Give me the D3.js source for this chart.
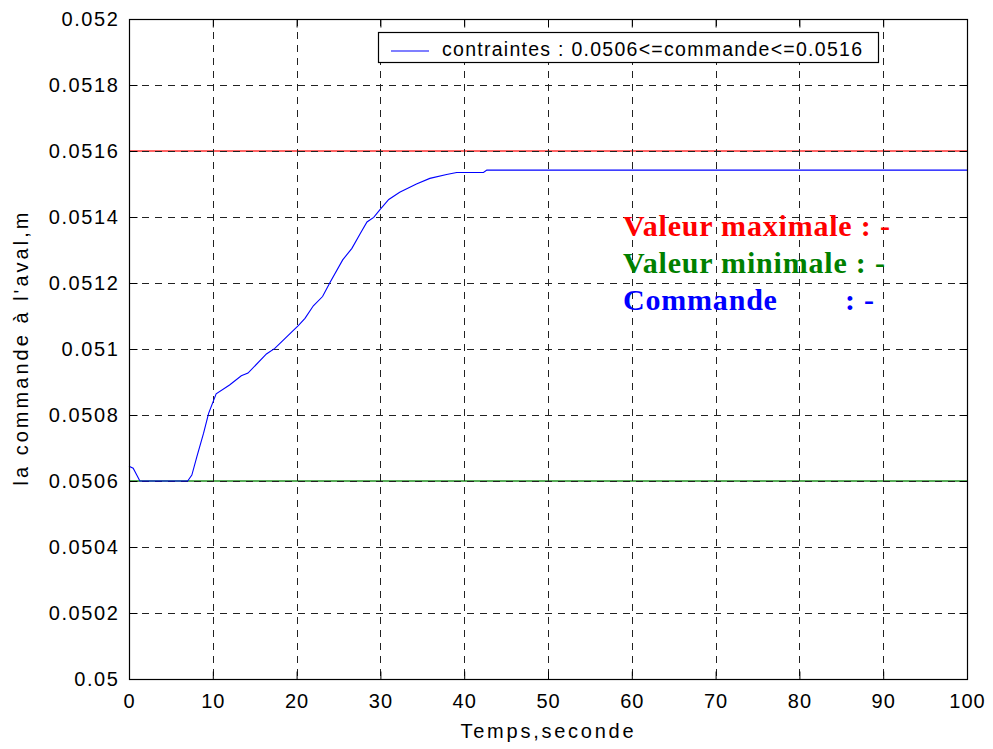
<!DOCTYPE html>
<html>
<head>
<meta charset="utf-8">
<script src="https://cdn.jsdelivr.net/npm/d3@7"></script>
<style>
  html, body { margin: 0; padding: 0; background: #fff; }
  svg { display: block; }
</style>
</head>
<body>
<svg id="chart" width="993" height="749"></svg>
<script>
// ---- data ----
const time = [0, 0.5, 1.3, 7.0, 7.5, 8.1, 8.9, 9.5, 10.4, 12.0, 13.4, 14.2, 16.4, 17.4, 20.2, 21.0, 22.0, 23.1, 24.0, 25.5, 26.6, 27.6, 28.4, 29.2, 30.0, 31.0, 32.3, 34.3, 35.9, 37.9, 39.1, 42.3, 42.7, 100];
const commande = [0.050645, 0.050639, 0.0506, 0.0506, 0.050618, 0.050674, 0.050745, 0.050805, 0.050864, 0.050891, 0.050919, 0.050927, 0.050985, 0.051002, 0.051071, 0.051093, 0.051131, 0.051159, 0.051202, 0.051270, 0.051305, 0.051350, 0.051385, 0.051399, 0.051424, 0.051453, 0.051475, 0.051500, 0.051517, 0.051529, 0.051535, 0.051535, 0.051542, 0.051542];
const valeurMax = 0.0516;
const valeurMin = 0.0506;
const xTicks = [0, 10, 20, 30, 40, 50, 60, 70, 80, 90, 100];
const yTicks = [0.05, 0.0502, 0.0504, 0.0506, 0.0508, 0.051, 0.0512, 0.0514, 0.0516, 0.0518, 0.052];
const yTickLabels = ["0.05", "0.0502", "0.0504", "0.0506", "0.0508", "0.051", "0.0512", "0.0514", "0.0516", "0.0518", "0.052"];
const legendLabel = "contraintes : 0.0506<=commande<=0.0516";
const xLabel = "Temps,seconde";
const yLabel = "la commande à l'aval,m";
const notes = [
  {text: "Valeur maximale : -", color: "#ff0000"},
  {text: "Valeur minimale : -", color: "#008000"},
  {text: "Commande", extra: ": -", color: "#0000ff"}
];

// ---- layout ----
const L = 129, R = 967, T = 19, B = 679;
const svg = d3.select("#chart");
const x = d3.scaleLinear().domain([0, 100]).range([L, R]);
const y = d3.scaleLinear().domain([0.05, 0.052]).range([B, T]);

const font = "'Liberation Sans', Arial, Helvetica, sans-serif";

// threshold lines (under grid)
svg.append("line").attr("x1", L).attr("x2", R)
  .attr("y1", y(valeurMax)).attr("y2", y(valeurMax))
  .attr("stroke", "#ff3030").attr("stroke-width", 1.6);
svg.append("line").attr("x1", L).attr("x2", R)
  .attr("y1", y(valeurMin)).attr("y2", y(valeurMin))
  .attr("stroke", "#209020").attr("stroke-width", 1.6);

// grid
const grid = svg.append("g").attr("stroke", "#222").attr("stroke-width", 1).attr("stroke-dasharray", "7,6");
xTicks.slice(1, -1).forEach(v => {
  const px = Math.round(x(v)) + 0.5;
  grid.append("line").attr("x1", px).attr("x2", px).attr("y1", T).attr("y2", B);
});
yTicks.slice(1, -1).forEach(v => {
  const py = Math.round(y(v)) + 0.5;
  grid.append("line").attr("x1", L).attr("x2", R).attr("y1", py).attr("y2", py);
});

// data line
const line = d3.line().x((d, i) => x(time[i])).y((d, i) => y(commande[i]));
svg.append("path").datum(commande).attr("d", line)
  .attr("fill", "none").attr("stroke", "#0000ff").attr("stroke-width", 1.1);

// axes frame
svg.append("rect").attr("x", L + 0.5).attr("y", T + 0.5).attr("width", R - L).attr("height", B - T)
  .attr("fill", "none").attr("stroke", "#000").attr("stroke-width", 1.2);

// axes with D3 (inside ticks)
const xAxis = d3.axisBottom(x).tickValues(xTicks).tickSize(-8).tickPadding(14).tickFormat(d3.format("d"));
const gx = svg.append("g").attr("transform", `translate(0,${B + 0.5})`).call(xAxis);
gx.select(".domain").remove();
gx.selectAll("text").attr("font-family", font).attr("font-size", 20).attr("fill", "#000").attr("letter-spacing", 1);

const xAxisTop = d3.axisTop(x).tickValues(xTicks).tickSize(-8).tickFormat("");
const gxt = svg.append("g").attr("transform", `translate(0,${T + 0.5})`).call(xAxisTop);
gxt.select(".domain").remove();

const yAxis = d3.axisLeft(y).tickValues(yTicks).tickSize(-8).tickPadding(10).tickFormat((d, i) => yTickLabels[i]);
const gy = svg.append("g").attr("transform", `translate(${L + 0.5},0)`).call(yAxis);
gy.select(".domain").remove();
gy.selectAll("text").attr("font-family", font).attr("font-size", 20).attr("fill", "#000").attr("letter-spacing", 1.6);

const yAxisR = d3.axisRight(y).tickValues(yTicks).tickSize(-8).tickFormat("");
const gyr = svg.append("g").attr("transform", `translate(${R + 0.5},0)`).call(yAxisR);
gyr.select(".domain").remove();

// axis labels
svg.append("text").attr("x", 547).attr("y", 738).attr("text-anchor", "middle")
  .attr("font-family", font).attr("font-size", 20).attr("fill", "#000")
  .attr("textLength", 173).attr("lengthAdjust", "spacing").text(xLabel);
svg.append("text").attr("transform", "translate(28,349) rotate(-90)").attr("text-anchor", "middle")
  .attr("font-family", font).attr("font-size", 20).attr("fill", "#000")
  .attr("textLength", 273).attr("lengthAdjust", "spacing").text(yLabel);

// legend
const lg = svg.append("g");
lg.append("rect").attr("x", 378.5).attr("y", 32.5).attr("width", 500).attr("height", 30)
  .attr("fill", "#fff").attr("stroke", "#000").attr("stroke-width", 1.2);
lg.append("line").attr("x1", 391).attr("x2", 429).attr("y1", 51).attr("y2", 51)
  .attr("stroke", "#0000ff").attr("stroke-width", 1.1);
lg.append("text").attr("x", 442).attr("y", 55.5).attr("font-family", font).attr("font-size", 19.5)
  .attr("fill", "#000").attr("textLength", 420).attr("lengthAdjust", "spacing").text(legendLabel);

// annotations
const serif = "'Liberation Serif', 'Times New Roman', serif";
const noteY = [236, 273, 310];
notes.forEach((n, i) => {
  svg.append("text").attr("x", 623).attr("y", noteY[i]).attr("font-family", serif)
    .attr("font-weight", "bold").attr("font-size", 30).attr("letter-spacing", 0.8)
    .attr("fill", n.color).text(n.text);
  if (n.extra) {
    svg.append("text").attr("x", 845).attr("y", noteY[i]).attr("font-family", serif)
      .attr("font-weight", "bold").attr("font-size", 30).attr("letter-spacing", 0.8)
      .attr("fill", n.color).text(n.extra);
  }
});
</script>
</body>
</html>
